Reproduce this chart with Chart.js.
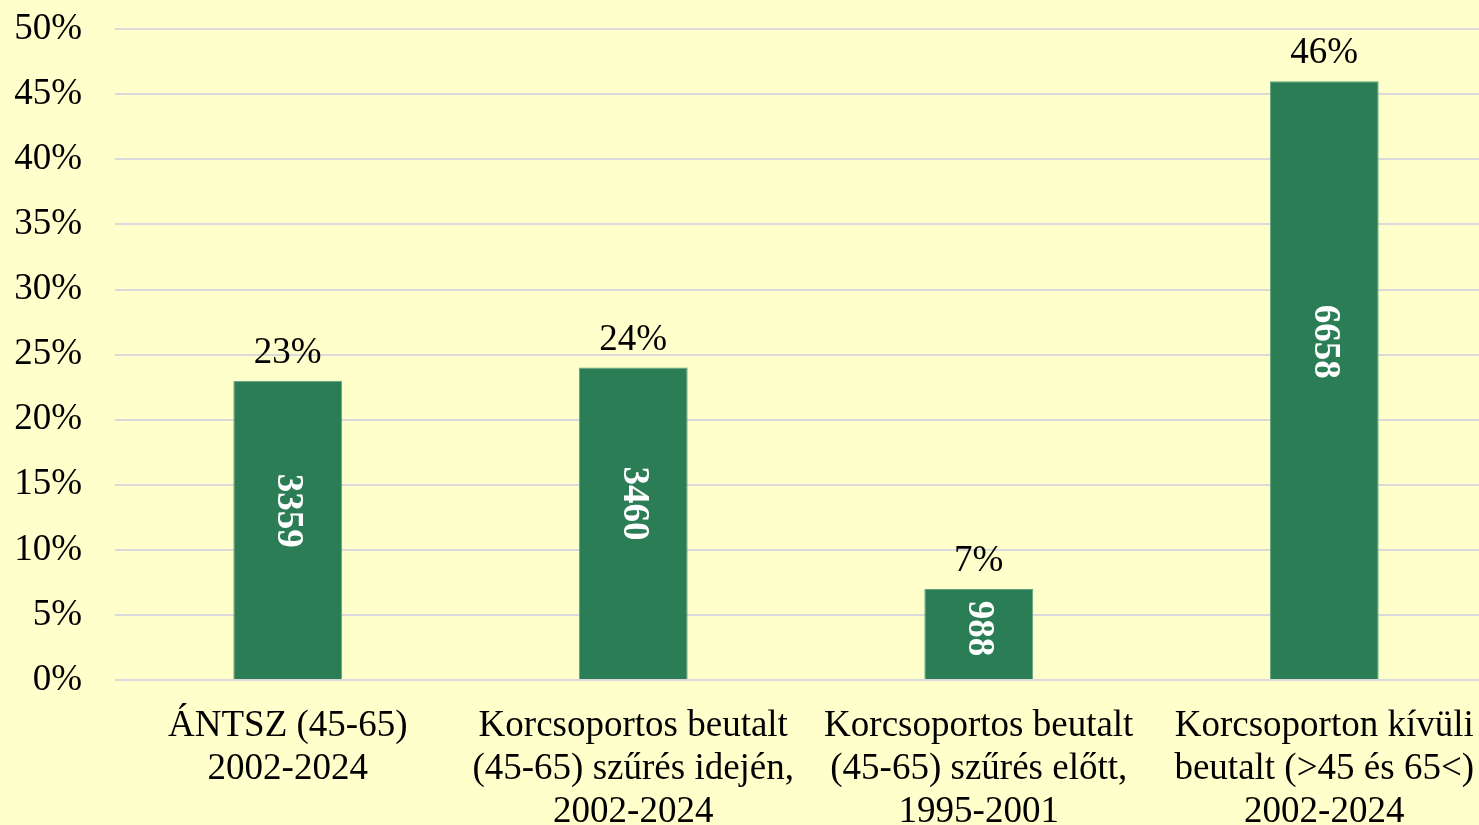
<!DOCTYPE html>
<html>
<head>
<meta charset="utf-8">
<script src="https://cdn.jsdelivr.net/npm/chart.js@4"></script>
<style>
  html, body { margin: 0; padding: 0; background: #FFFFCC; overflow: hidden; }
  #wrap { width: 1497px; height: 851px; margin-top: -26px; }
</style>
</head>
<body>
<div id="wrap"><canvas id="chart"></canvas></div>
<script>
// chart data
const categories = [
    ['ÁNTSZ (45-65)', '2002-2024'],
    ['Korcsoportos beutalt', '(45-65) szűrés idején,', '2002-2024'],
    ['Korcsoportos beutalt', '(45-65) szűrés előtt,', '1995-2001'],
    ['Korcsoporton kívüli', 'beutalt (>45 és 65<)', '2002-2024']
];
const percentages = [23, 24, 7, 46];
const counts = [3359, 3460, 988, 6658];
const yTicks = [0, 5, 10, 15, 20, 25, 30, 35, 40, 45, 50];

const serif = '"Liberation Serif", "Times New Roman", serif';

// percent above bar, count rotated inside bar
const barLabels = {
    id: 'barLabels',
    afterDatasetsDraw(chart) {
        const ctx = chart.ctx;
        const meta = chart.getDatasetMeta(0);
        const yScale = chart.scales.y;
        meta.data.forEach((bar, i) => {
            ctx.save();
            ctx.fillStyle = '#000';
            ctx.font = '37px ' + serif;
            ctx.textAlign = 'center';
            ctx.textBaseline = 'alphabetic';
            ctx.fillText(percentages[i] + '%', bar.x, bar.y - 18);

            const cy = yScale.getPixelForValue(percentages[i] * 0.565);
            ctx.translate(bar.x, cy);
            ctx.rotate(Math.PI / 2);
            ctx.fillStyle = '#fff';
            ctx.font = 'bold 37px ' + serif;
            ctx.textBaseline = 'middle';
            ctx.fillText(String(counts[i]), 0, 0);
            ctx.restore();
        });
    }
};

new Chart(document.getElementById('chart'), {
    type: 'bar',
    data: {
        labels: categories,
        datasets: [{
            data: percentages,
            backgroundColor: '#2A7D55',
            borderColor: '#5FA47E',
            borderWidth: 1,
            categoryPercentage: 1,
            barPercentage: 0.315
        }]
    },
    options: {
        responsive: true,
        maintainAspectRatio: false,
        animation: false,
        layout: { padding: { top: 6, right: 0, left: 0, bottom: 0 } },
        plugins: {
            legend: { display: false },
            tooltip: { enabled: false }
        },
        scales: {
            y: {
                min: 0,
                max: 50,
                afterBuildTicks(axis) {
                    axis.ticks = yTicks.map(v => ({ value: v }));
                },
                afterFit(axis) { axis.width = 115; },
                border: { display: false },
                grid: { color: '#D9D9D9', lineWidth: 2, drawTicks: false },
                ticks: {
                    color: '#000',
                    padding: 33,
                    font: { family: serif, size: 37 },
                    callback: v => v + '%'
                }
            },
            x: {
                afterFit(axis) { axis.height = 145; },
                border: { display: false },
                grid: { display: false },
                ticks: {
                    color: '#000',
                    padding: 17,
                    maxRotation: 0,
                    autoSkip: false,
                    font: { family: serif, size: 37, lineHeight: 1.16 }
                }
            }
        }
    },
    plugins: [barLabels]
});
</script>
</body>
</html>
